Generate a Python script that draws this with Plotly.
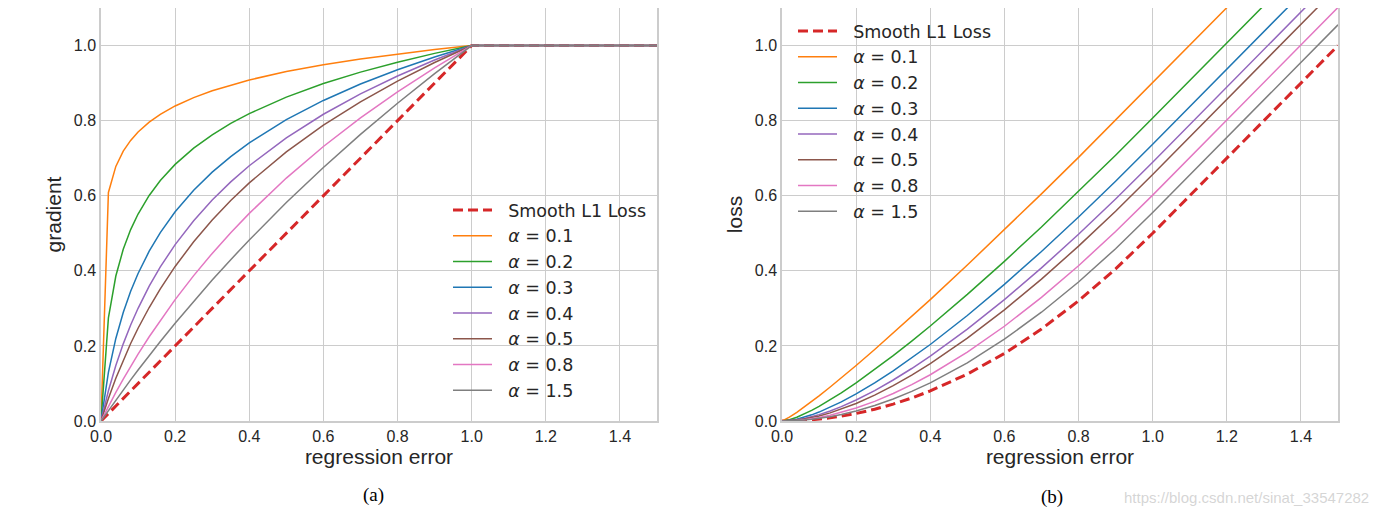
import plotly.graph_objects as go

# ---------------- data ----------------
x_err = [0, 0.02, 0.04, 0.06, 0.08, 0.1, 0.13, 0.16, 0.2, 0.25, 0.3, 0.35,
         0.4, 0.5, 0.6, 0.7, 0.8, 0.9, 1.0, 1.5]

series_names = ["Smooth L1 Loss", "<i>α</i> = 0.1", "<i>α</i> = 0.2", "<i>α</i> = 0.3",
                "<i>α</i> = 0.4", "<i>α</i> = 0.5", "<i>α</i> = 0.8", "<i>α</i> = 1.5"]

grad_smooth = [0, 0.02, 0.04, 0.06, 0.08, 0.1, 0.13, 0.16, 0.2, 0.25, 0.3, 0.35,
               0.4, 0.5, 0.6, 0.7, 0.8, 0.9, 1.0, 1.0]
grad_a01 = [0, 0.6088, 0.6781, 0.7187, 0.7474, 0.7697, 0.7960, 0.8167, 0.8391, 0.8614,
            0.8796, 0.8950, 0.9084, 0.9307, 0.9489, 0.9643, 0.9777, 0.9895, 1.0, 1.0]
grad_a02 = [0, 0.2746, 0.3862, 0.4574, 0.5098, 0.5512, 0.6008, 0.6404, 0.6834, 0.7267,
            0.7623, 0.7925, 0.8187, 0.8627, 0.8987, 0.9292, 0.9557, 0.9791, 1.0, 1.0]
grad_a03 = [0, 0.1297, 0.2199, 0.2892, 0.3454, 0.3928, 0.4522, 0.5017, 0.5572, 0.6146,
            0.6628, 0.7043, 0.7408, 0.8026, 0.8538, 0.8976, 0.9357, 0.9696, 1.0, 1.0]
grad_a04 = [0, 0.0807, 0.1479, 0.2054, 0.2556, 0.3002, 0.3590, 0.4103, 0.4698, 0.5335,
            0.5885, 0.6368, 0.6799, 0.7543, 0.8170, 0.8712, 0.9189, 0.9615, 1.0, 1.0]
grad_a05 = [0, 0.0601, 0.1138, 0.1623, 0.2064, 0.2470, 0.3023, 0.3521, 0.4116, 0.4772,
            0.5352, 0.5872, 0.6343, 0.7169, 0.7878, 0.8499, 0.9051, 0.9548, 1.0, 1.0]
grad_a08 = [0, 0.0389, 0.0760, 0.1114, 0.1453, 0.1779, 0.2244, 0.2683, 0.3233, 0.3872,
            0.4464, 0.5015, 0.5530, 0.6470, 0.7312, 0.8073, 0.8768, 0.9408, 1.0, 1.0]
grad_a15 = [0, 0.0282, 0.0558, 0.0830, 0.1096, 0.1358, 0.1743, 0.2118, 0.2604, 0.3190,
            0.3753, 0.4297, 0.4821, 0.5818, 0.6753, 0.7633, 0.8464, 0.9252, 1.0, 1.0]

loss_smooth = [0, 0.0002, 0.0008, 0.0018, 0.0032, 0.005, 0.00845, 0.0128, 0.02, 0.03125,
               0.045, 0.06125, 0.08, 0.125, 0.18, 0.245, 0.32, 0.405, 0.5, 1.0]
loss_a01 = [0, 0.0102, 0.0231, 0.0371, 0.0518, 0.0670, 0.0905, 0.1147, 0.1478, 0.1904,
            0.2339, 0.2783, 0.3234, 0.4154, 0.5093, 0.6050, 0.7022, 0.8006, 0.9, 1.4]
loss_a02 = [0, 0.0034, 0.0101, 0.0186, 0.0282, 0.0389, 0.0562, 0.0748, 0.1013, 0.1366,
            0.1739, 0.2128, 0.2530, 0.3372, 0.4253, 0.5167, 0.6110, 0.7078, 0.8068, 1.3068]
loss_a03 = [0, 0.0014, 0.0049, 0.0101, 0.0164, 0.0238, 0.0365, 0.0508, 0.0721, 0.1014,
            0.1334, 0.1676, 0.2037, 0.2810, 0.3639, 0.4515, 0.5432, 0.6385, 0.7370, 1.2370]
loss_a04 = [0, 0.0008, 0.0031, 0.0067, 0.0113, 0.0169, 0.0268, 0.0383, 0.0560, 0.0811,
            0.1092, 0.1398, 0.1728, 0.2446, 0.3233, 0.4077, 0.4973, 0.5913, 0.6894, 1.1894]
loss_a05 = [0, 0.0006, 0.0024, 0.0051, 0.0088, 0.0134, 0.0216, 0.0315, 0.0468, 0.0690,
            0.0944, 0.1224, 0.1530, 0.2207, 0.2960, 0.3779, 0.4657, 0.5588, 0.6565, 1.1565]
loss_a08 = [0, 0.0004, 0.0015, 0.0034, 0.0060, 0.0092, 0.0153, 0.0227, 0.0345, 0.0523,
            0.0732, 0.0969, 0.1232, 0.1833, 0.2523, 0.3293, 0.4136, 0.5045, 0.6016, 1.1016]
loss_a15 = [0, 0.0003, 0.0011, 0.0025, 0.0044, 0.0069, 0.0115, 0.0173, 0.0268, 0.0413,
            0.0587, 0.0788, 0.1016, 0.1548, 0.2178, 0.2897, 0.3703, 0.4589, 0.5552, 1.0552]

grad_series = [grad_smooth, grad_a01, grad_a02, grad_a03, grad_a04, grad_a05, grad_a08, grad_a15]
loss_series = [loss_smooth, loss_a01, loss_a02, loss_a03, loss_a04, loss_a05, loss_a08, loss_a15]

x_ticks = [0.0, 0.2, 0.4, 0.6, 0.8, 1.0, 1.2, 1.4]
y_ticks = [0.0, 0.2, 0.4, 0.6, 0.8, 1.0]

# ---------------- layout helpers ----------------
W, H, OFF = 1392, 518, 8   # page body has an 8px margin


def px(xp):
    return (xp - OFF) / W


def py(yp):
    return 1 - (yp - OFF) / H


colors = ["#d62728", "#ff7f0e", "#2ca02c", "#1f77b4", "#9467bd", "#8c564b", "#e377c2", "#7f7f7f"]
TXT = "#262626"
GRID = "#cccccc"
PAD = "\u00a0\u00a0"

fig = go.Figure()

for i, (name, ys) in enumerate(zip(series_names, grad_series)):
    dashed = i == 0
    fig.add_trace(go.Scatter(
        x=x_err, y=ys, name=PAD + name, mode="lines",
        line=dict(color=colors[i], width=3 if dashed else 1.5,
                  dash="10px,5px" if dashed else "solid"),
        xaxis="x", yaxis="y", legend="legend"))

for i, (name, ys) in enumerate(zip(series_names, loss_series)):
    dashed = i == 0
    fig.add_trace(go.Scatter(
        x=x_err, y=ys, name=PAD + name, mode="lines",
        line=dict(color=colors[i], width=3 if dashed else 1.5,
                  dash="10px,5px" if dashed else "solid"),
        xaxis="x2", yaxis="y2", legend="legend2"))

tickfont = dict(family="Liberation Sans, Arial, sans-serif", size=16, color=TXT)
titlefont = dict(family="Liberation Sans, Arial, sans-serif", size=21, color=TXT)


def xax(domain, anchor):
    return dict(domain=domain, anchor=anchor, range=[0, 1.5], tickvals=x_ticks,
                tickformat=".1f", showgrid=True, gridcolor=GRID, gridwidth=1,
                showline=True, linecolor=GRID, linewidth=1.5, mirror=True,
                zeroline=False, ticks="", tickfont=tickfont, automargin=False,
                title=dict(text="regression error", font=titlefont, standoff=5))


def yax(domain, anchor, title):
    return dict(domain=domain, anchor=anchor, range=[0, 1.1], tickvals=y_ticks,
                tickformat=".1f", showgrid=True, gridcolor=GRID, gridwidth=1,
                showline=True, linecolor=GRID, linewidth=1.5, mirror=True,
                zeroline=False, ticks="", tickfont=tickfont, automargin=False,
                title=dict(text=title, font=titlefont, standoff=6))


legfont = dict(family="DejaVu Sans", size=17.5, color=TXT)
capfont = dict(family="Liberation Serif, Times New Roman, serif", size=19, color="black")

fig.update_layout(
    width=W, height=H,
    margin=dict(l=0, r=0, t=0, b=0, autoexpand=False),
    paper_bgcolor="white", plot_bgcolor="white",
    xaxis=xax([px(101), px(657)], "y"),
    yaxis=yax([py(421), 1.0], "x", "gradient"),
    xaxis2=xax([px(782), px(1338)], "y2"),
    yaxis2=yax([py(421), 1.0], "x2", "loss"),
    legend=dict(x=px(448), y=py(192), xanchor="left", yanchor="top", itemwidth=39,
                bgcolor="rgba(0,0,0,0)", font=legfont, tracegroupgap=0),
    legend2=dict(x=px(793), y=py(13), xanchor="left", yanchor="top", itemwidth=39,
                 bgcolor="rgba(0,0,0,0)", font=legfont, tracegroupgap=0),
    annotations=[
        dict(text="(a)", x=px(373), y=py(495), xref="paper", yref="paper",
             xanchor="center", yanchor="middle", showarrow=False, font=capfont),
        dict(text="(b)", x=px(1052), y=py(497), xref="paper", yref="paper",
             xanchor="center", yanchor="middle", showarrow=False, font=capfont),
        dict(text="https://blog.csdn.net/sinat_33547282", x=px(1122), y=py(497),
             xref="paper", yref="paper", xanchor="left", yanchor="middle", showarrow=False,
             font=dict(family="Liberation Sans, Arial", size=15, color="rgba(185,185,185,0.6)")),
    ],
)

fig.write_html("out.html")
